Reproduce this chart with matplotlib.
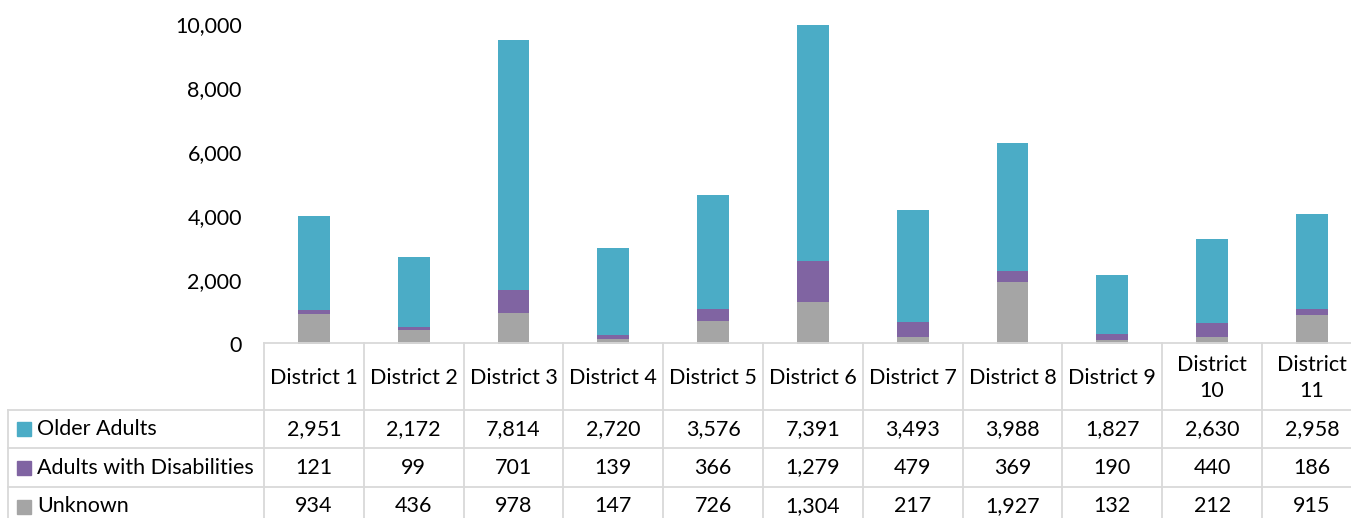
import matplotlib.pyplot as plt
import numpy as np
from matplotlib.transforms import blended_transform_factory
from matplotlib.patches import Rectangle
from matplotlib.lines import Line2D

districts = ["District 1", "District 2", "District 3", "District 4", "District 5",
             "District 6", "District 7", "District 8", "District 9", "District\n10", "District\n11"]
older_adults = [2951, 2172, 7814, 2720, 3576, 7391, 3493, 3988, 1827, 2630, 2958]
disabilities = [121, 99, 701, 139, 366, 1279, 479, 369, 190, 440, 186]
unknown = [934, 436, 978, 147, 726, 1304, 217, 1927, 132, 212, 915]
series_names = ["Older Adults", "Adults with Disabilities", "Unknown"]
colors = ["#4BACC6", "#8064A2", "#A5A5A5"]

plt.rcParams['font.family'] = ['Lato', 'DejaVu Sans']
W, H = 1351, 518
FS = 15.5
grid_c = "#D9D9D9"

fig = plt.figure(figsize=(W / 100, H / 100), dpi=100)


def fy(py):
    return 1 - py / H


# plot area
ax = fig.add_axes([264 / W, fy(344), 11 * 99.8 / W, (344 - 24) / H])
x = np.arange(len(districts))
bw = 0.32
ax.bar(x, unknown, bw, color=colors[2])
ax.bar(x, disabilities, bw, bottom=unknown, color=colors[1])
ax.bar(x, older_adults, bw, bottom=np.add(unknown, disabilities), color=colors[0])
ax.set_xlim(-0.5, len(districts) - 0.5)
ax.set_ylim(0, 10000)
ax.set_yticks(range(0, 10001, 2000))
ax.yaxis.set_major_formatter(lambda v, p: f"{int(v):,}")
ax.tick_params(axis='y', length=0, pad=16, labelsize=FS)
ax.set_xticks([])
for s in ax.spines.values():
    s.set_visible(False)

# data table below the plot
tr = blended_transform_factory(ax.transData, fig.transFigure)
rows = [343, 410, 448, 487, 526]
n = len(districts)
lw = 1.3

for i in range(n + 1):
    fig.add_artist(Line2D([i - 0.5, i - 0.5], [fy(rows[0]), fy(rows[-1])],
                          transform=tr, color=grid_c, lw=lw))
fig.add_artist(Line2D([-0.5, n - 0.5], [fy(rows[0])] * 2, transform=tr, color=grid_c, lw=lw))
for r in rows[1:4]:
    fig.add_artist(Line2D([8 / W, 1.01], [fy(r)] * 2, transform=fig.transFigure,
                          color=grid_c, lw=lw))
fig.add_artist(Line2D([8 / W, 8 / W], [fy(rows[1]), fy(rows[-1])],
                      transform=fig.transFigure, color=grid_c, lw=lw))

for i, d in enumerate(districts):
    fig.text(i, fy((rows[0] + rows[1]) / 2 + 1.5), d, transform=tr, ha='center', va='center',
             fontsize=FS, linespacing=1.35)

table_vals = [older_adults, disabilities, unknown]
for k, (name, vals, c) in enumerate(zip(series_names, table_vals, colors)):
    yc = (rows[k + 1] + rows[k + 2]) / 2
    fig.add_artist(Rectangle((17 / W, fy(yc + 7)), 14 / W, 14 / H,
                             transform=fig.transFigure, color=c))
    fig.text(37 / W, fy(yc), name, ha='left', va='center', fontsize=FS)
    for i, v in enumerate(vals):
        fig.text(i, fy(yc), f"{v:,}", transform=tr, ha='center', va='center', fontsize=FS)

fig.savefig("out.png", dpi=100)
